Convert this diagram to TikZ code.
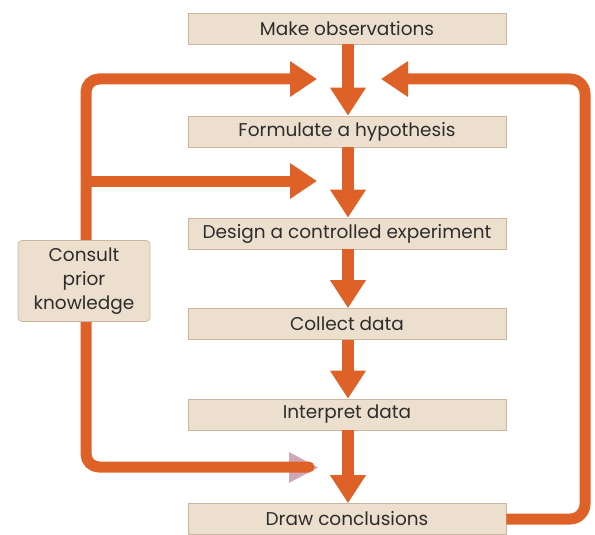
\documentclass[tikz,border=0pt]{standalone}
\usepackage{fontspec}
\setmainfont{Poppins}
\usetikzlibrary{arrows.meta}
\definecolor{flow}{RGB}{222,98,40}
\definecolor{boxfill}{RGB}{237,223,205}
\definecolor{boxedge}{RGB}{205,182,158}
\definecolor{txt}{RGB}{45,45,45}
\definecolor{faint}{RGB}{175,110,135}
\tikzset{
  stepbox/.style={draw=boxedge, line width=0.7pt, fill=boxfill, minimum width=318pt, minimum height=31pt,
    inner sep=0pt, text=txt, font=\fontsize{18.5}{20}\selectfont},
  sidebox/.style={draw=boxedge, line width=0.7pt, fill=boxfill, rounded corners=4pt, minimum width=132pt,
    minimum height=81pt, inner sep=0pt, text=txt, align=center, font=\fontsize{18.5}{24}\selectfont},
  downarrow/.style={draw=flow, line width=12pt, -{Triangle[length=28pt,width=34pt]}},
  feedarrow/.style={draw=flow, line width=11pt, -{Triangle[length=27pt,width=34pt]}},
}
\begin{document}
\begin{tikzpicture}[x=1pt,y=-1pt]
\useasboundingbox (0,0) rectangle (595,535);
% boxes
\node[stepbox] (obs) at (347,28.5) {Make observations};
\node[stepbox] (hyp) at (347,131.5) {Formulate a hypothesis};
\node[stepbox] (exp) at (347,233.5) {Design a controlled experiment};
\node[stepbox] (col) at (347,324) {Collect data};
\node[stepbox] (int) at (347,414.5) {Interpret data};
\node[stepbox] (con) at (347,519) {Draw conclusions};
% down arrows
\draw[downarrow] ([xshift=1pt]obs.south) -- ([xshift=1pt]hyp.north);
\draw[downarrow] ([xshift=1pt]hyp.south) -- ([xshift=1pt]exp.north);
\draw[downarrow] ([xshift=1pt]exp.south) -- ([xshift=1pt]col.north);
\draw[downarrow] ([xshift=1pt]col.south) -- ([xshift=1pt]int.north);
\draw[downarrow] ([xshift=1pt]int.south) -- ([xshift=1pt]con.north);
% feedback coordinates
\coordinate (tipA) at (317,79);
\coordinate (tipB) at (317,181);
\coordinate (endC) at (309,467);
\coordinate (tipR) at (381,79);
\coordinate (lt) at (86,79);
\coordinate (lm) at (86,181);
\coordinate (lb) at (86,467);
\coordinate (rt) at (585,79);
\coordinate (rb) at (585,519);
% faint bottom arrowhead
\fill[faint, opacity=0.6] (289,452) -- (318,467.5) -- (289,483) -- cycle;
% left loop
\draw[draw=flow, line width=11pt, rounded corners=13pt, line cap=round, {Triangle[length=27pt,width=34pt]}-]
  (tipA) -- (lt) -- (lb) -- (endC);
\draw[feedarrow] (lm) -- (tipB);
% right loop
\draw[feedarrow, rounded corners=15pt] (con.east) -- (rb) -- (rt) -- (tipR);
% consult box
\node[sidebox] (kno) at (84,281) {Consult\\prior\\knowledge};
\end{tikzpicture}
\end{document}
